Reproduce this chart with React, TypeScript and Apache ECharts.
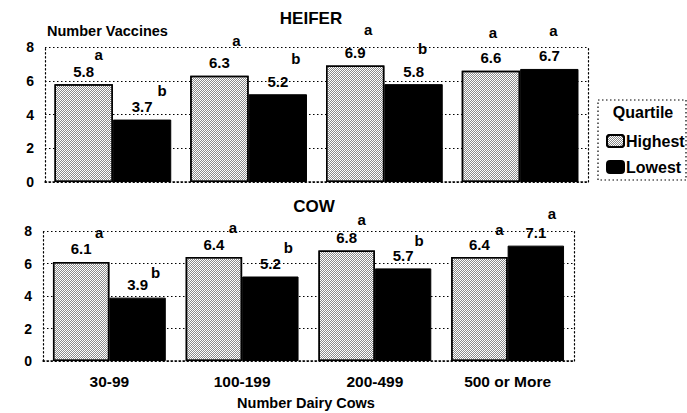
import React, { useEffect, useRef } from "react";
import * as echarts from "echarts";

const categories = ["30-99", "100-199", "200-499", "500 or More"];
const heiferHighest = [5.8, 6.3, 6.9, 6.6];
const heiferLowest = [3.7, 5.2, 5.8, 6.7];
const cowHighest = [6.1, 6.4, 6.8, 6.4];
const cowLowest = [3.9, 5.2, 5.7, 7.1];
const heiferHighestLetters = ["a", "a", "a", "a"];
const heiferLowestLetters = ["b", "b", "b", "a"];
const cowHighestLetters = ["a", "a", "a", "a"];
const cowLowestLetters = ["b", "b", "b", "a"];
const seriesNames = ["Highest", "Lowest"];
const yMin = 0;
const yMax = 8;
const yInterval = 2;

// label offsets of the letters (style only): [dx, dy] relative to value label
const heiferHighestOff = [[15, 17], [17, 22], [13, 23], [2, 25]];
const heiferLowestOff = [[20, 16], [18, 23], [9, 23], [4, 25]];
const cowHighestOff = [[18, 16], [19, 17], [15, 18], [20, 15]];
const cowLowestOff = [[18, 12], [18, 16], [16, 15], [16, 19]];

const FONT = "Liberation Sans, Arial, sans-serif";
const DOT: any = [1.5, 2.5];

function buildData(values: number[], letters: string[], offs: number[][]) {
  return values.map((v, i) => {
    const [dx, dy] = offs[i];
    const vLh = 16;
    const lLh = Math.max(2 * dy - vLh, 4);
    return {
      value: v,
      label: {
        show: true,
        position: "top",
        distance: 5,
        formatter: `{l|${letters[i]}}\n{v|${v.toFixed(1)}}`,
        rich: {
          v: { fontSize: 15, fontWeight: "bold", fontFamily: FONT, color: "#000", lineHeight: vLh },
          l: {
            fontSize: 15,
            fontWeight: "bold",
            fontFamily: FONT,
            color: "#000",
            lineHeight: lLh,
            padding: dx >= 0 ? [0, 0, 0, 2 * dx] : [0, -2 * dx, 0, 0],
          },
        },
      },
    };
  });
}

const stipple = {
  color: "#fff",
  borderColor: "#000",
  borderWidth: 1.5,
  decal: {
    symbol: "rect",
    symbolSize: 1,
    color: "#8a8a8a",
    dashArrayX: [[1, 1], [0, 1, 1, 0]],
    dashArrayY: [1, 0],
    rotation: 0,
  },
};
const solid = { color: "#000", borderColor: "#000", borderWidth: 1 };

export default function App() {
  const ref = useRef<HTMLDivElement>(null);
  useEffect(() => {
    const chart = echarts.init(ref.current!, undefined, { renderer: "svg" });
    const yAxisBase = (gi: number) => ({
      type: "value",
      gridIndex: gi,
      min: yMin,
      max: yMax,
      interval: yInterval,
      axisLine: { show: true, lineStyle: { color: "#000", type: DOT, width: 1.2 } },
      axisTick: { show: false },
      axisLabel: { color: "#000", fontSize: 14, fontWeight: "bold", fontFamily: FONT, margin: 11 },
      splitLine: { show: true, lineStyle: { color: "#000", type: DOT, width: 1 } },
    });
    const yAxisRight = (gi: number) => ({
      type: "value",
      gridIndex: gi,
      position: "right",
      min: yMin,
      max: yMax,
      interval: yInterval,
      axisLine: { show: true, lineStyle: { color: "#000", type: DOT, width: 1.2 } },
      axisTick: { show: false },
      axisLabel: { show: false },
      splitLine: { show: false },
    });
    const xAxisBase = (gi: number, showLabel: boolean) => ({
      type: "category",
      gridIndex: gi,
      data: categories,
      axisLine: { show: true, lineStyle: { color: "#000", type: DOT, width: 1.5 } },
      axisTick: { show: false },
      axisLabel: { show: showLabel, color: "#000", fontSize: 15.5, fontWeight: "bold", fontFamily: FONT, margin: 12 },
    });
    const option: any = {
      animation: false,
      backgroundColor: "#fff",
      textStyle: { fontFamily: FONT },
      grid: [
        { left: 45, right: 99, top: 47, height: 135 },
        { left: 43, right: 113, top: 231, height: 130 },
      ],
      xAxis: [xAxisBase(0, false), xAxisBase(1, true)],
      yAxis: [yAxisBase(0), yAxisRight(0), yAxisBase(1), yAxisRight(1)],
      legend: {
        orient: "vertical",
        left: 601,
        top: 128,
        itemWidth: 17,
        itemHeight: 12,
        itemGap: 10,
        data: seriesNames,
        textStyle: { color: "#000", fontSize: 16, fontWeight: "bold", fontFamily: FONT, padding: [0, 0, 0, -3] },
      },
      series: [
        {
          name: seriesNames[0],
          type: "bar",
          xAxisIndex: 0,
          yAxisIndex: 0,
          barGap: "0%",
          barCategoryGap: "14%",
          itemStyle: stipple,
          data: buildData(heiferHighest, heiferHighestLetters, heiferHighestOff),
        },
        {
          name: seriesNames[1],
          type: "bar",
          xAxisIndex: 0,
          yAxisIndex: 0,
          barGap: "0%",
          barCategoryGap: "14%",
          itemStyle: solid,
          data: buildData(heiferLowest, heiferLowestLetters, heiferLowestOff),
        },
        {
          name: seriesNames[0],
          type: "bar",
          xAxisIndex: 1,
          yAxisIndex: 2,
          barGap: "0%",
          barCategoryGap: "15%",
          itemStyle: stipple,
          data: buildData(cowHighest, cowHighestLetters, cowHighestOff),
        },
        {
          name: seriesNames[1],
          type: "bar",
          xAxisIndex: 1,
          yAxisIndex: 2,
          barGap: "0%",
          barCategoryGap: "15%",
          itemStyle: solid,
          data: buildData(cowLowest, cowLowestLetters, cowLowestOff),
        },
      ],
      graphic: [
        {
          type: "text",
          x: 311,
          y: 18,
          style: { text: "HEIFER", fill: "#000", font: `bold 17px ${FONT}`, textAlign: "center", textVerticalAlign: "middle" },
        },
        {
          type: "text",
          x: 314,
          y: 206,
          style: { text: "COW", fill: "#000", font: `bold 17px ${FONT}`, textAlign: "center", textVerticalAlign: "middle" },
        },
        {
          type: "text",
          x: 47,
          y: 31,
          style: { text: "Number Vaccines", fill: "#000", font: `bold 14.5px ${FONT}`, textAlign: "left", textVerticalAlign: "middle" },
        },
        {
          type: "text",
          x: 306,
          y: 403,
          style: { text: "Number Dairy Cows", fill: "#000", font: `bold 14.5px ${FONT}`, textAlign: "center", textVerticalAlign: "middle" },
        },
        {
          type: "rect",
          shape: { x: 598, y: 100, width: 88, height: 80 },
          style: { fill: "none", stroke: "#000", lineWidth: 1.2, lineDash: [1.5, 2.5] },
        },
        {
          type: "text",
          x: 643,
          y: 112,
          style: { text: "Quartile", fill: "#000", font: `bold 16px ${FONT}`, textAlign: "center", textVerticalAlign: "middle" },
        },
      ],
    };
    chart.setOption(option);
    return () => chart.dispose();
  }, []);
  return <div ref={ref} style={{ position: "fixed", left: 0, top: 0, width: 687, height: 413 }} />;
}
